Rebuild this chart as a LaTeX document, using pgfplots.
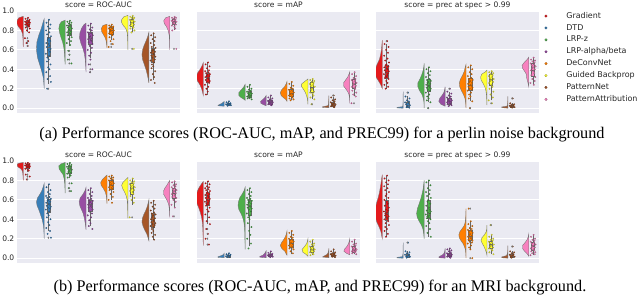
\documentclass[border=0pt]{standalone}
\usepackage{fontspec}
\setmainfont{DejaVu Sans}
\newfontfamily\capfont{Liberation Serif}
\usepackage{pgfplots}
\pgfplotsset{compat=1.18}
\definecolor{bg}{HTML}{EAEAF2}
\definecolor{c0}{HTML}{E41A1C}
\definecolor{c1}{HTML}{377EB8}
\definecolor{c2}{HTML}{4DAF4A}
\definecolor{c3}{HTML}{984EA3}
\definecolor{c4}{HTML}{FF7F00}
\definecolor{c5}{HTML}{FFFF33}
\definecolor{c6}{HTML}{A65628}
\definecolor{c7}{HTML}{F781BF}
\pgfplotsset{rc/.style={
  scale only axis, width=163bp, height=102bp,
  xmin=-0.5, xmax=7.2875, ymin=-0.05, ymax=1.0,
  axis background/.style={fill=bg},
  axis line style={draw=none},
  ymajorgrids, grid style={white, line width=0.8pt},
  xtick=\empty, ytick={0,0.2,0.4,0.6,0.8,1.0},
  major tick length=0pt,
  /pgf/number format/assume math mode=true,
  tick label style={font=\fontsize{7.6}{9}\selectfont, text=black!85},
  yticklabel style={/pgf/number format/fixed, /pgf/number format/fixed zerofill, /pgf/number format/precision=1, inner sep=1bp, xshift=-1.5bp},
  every axis title shift=0pt,
  title style={font=\fontsize{7.6}{9}\selectfont, text=black!85, anchor=base, at={(0.5,1)}, yshift=3bp, inner sep=0pt},
}}
% group: position, colour, violin (v w), strip points (d v), lower whisker, q1, median, q3, upper whisker
\newcommand\grp[9]{%
  \addplot[forget plot, fill=#2, draw=black!55, line width=0.35pt] table[row sep=\\, x expr={#1-0.2-\thisrow{w}}, y=v] {v w\\ #3} -- cycle;
  \addplot[forget plot, only marks, mark=*, mark size=0.8pt, draw=#2!55!black, fill=#2, line width=0.15pt] table[row sep=\\, x expr={#1+\thisrow{d}}, y=v] {d v\\ #4};
  \addplot[forget plot, draw=black!60, line width=0.4pt] table[row sep=\\, x expr={#1}, y=v] {v\\ #5\\ #6\\};
  \addplot[forget plot, draw=black!60, line width=0.4pt] table[row sep=\\, x expr={#1}, y=v] {v\\ #8\\ #9\\};
  \addplot[forget plot, draw=black!60, fill=#2, line width=0.4pt] table[row sep=\\, x expr={#1+\thisrow{d}}, y=v] {d v\\ -0.075 #6\\ 0.075 #6\\ 0.075 #8\\ -0.075 #8\\} -- cycle;
  \addplot[forget plot, draw=black!60, line width=0.5pt] table[row sep=\\, x expr={#1+\thisrow{d}}, y=v] {d v\\ -0.075 #7\\ 0.075 #7\\};
}
\newcommand\fl[2]{\addplot[forget plot, only marks, mark=diamond*, mark size=0.9pt, draw=black!60, fill=black!45, line width=0.15pt] table[row sep=\\, header=false, x expr={#1}, y index=0] {#2};}
\begin{document}
\begin{tikzpicture}
\useasboundingbox (0,0) rectangle (640bp,296bp);
%% ---------------- top row ----------------
\begin{axis}[rc, at={(17bp,183bp)}, anchor=south west, title={score = ROC-AUC}]
\grp{0}{c0}{0.945 0\\0.93 0.22\\0.90 0.30\\0.87 0.30\\0.84 0.24\\0.81 0.12\\0.77 0.04\\0.72 0.015\\0.66 0.01\\0.63 0\\}
{0.03 0.93\\-0.09 0.92\\0.10 0.91\\-0.02 0.90\\0.07 0.90\\-0.11 0.89\\0.05 0.89\\-0.06 0.88\\0.12 0.88\\0.00 0.87\\-0.04 0.87\\0.09 0.86\\-0.10 0.86\\0.02 0.85\\0.06 0.84\\-0.08 0.83\\0.11 0.82\\-0.03 0.80\\0.08 0.78\\-0.12 0.72\\0.04 0.69\\-0.05 0.67\\0.01 0.64\\}
{0.78}{0.84}{0.87}{0.90}{0.93}
\fl{0}{0.72\\0.69\\0.67\\0.64\\}
\grp{1}{c1}{0.92 0\\0.88 0.06\\0.82 0.14\\0.75 0.26\\0.68 0.35\\0.60 0.37\\0.52 0.32\\0.45 0.22\\0.38 0.12\\0.32 0.05\\0.26 0.02\\0.20 0\\}
{0.03 0.91\\-0.09 0.88\\0.10 0.86\\-0.02 0.84\\0.07 0.82\\-0.11 0.80\\0.05 0.78\\-0.06 0.76\\0.12 0.74\\0.00 0.72\\-0.04 0.70\\0.09 0.69\\-0.10 0.67\\0.02 0.66\\0.06 0.64\\-0.08 0.63\\0.11 0.61\\-0.03 0.60\\0.08 0.58\\-0.12 0.56\\0.04 0.54\\-0.05 0.52\\0.01 0.50\\-0.07 0.48\\0.10 0.45\\-0.01 0.42\\0.05 0.40\\-0.10 0.37\\0.08 0.33\\-0.04 0.30\\0.12 0.27\\-0.06 0.20\\}
{0.25}{0.53}{0.63}{0.73}{0.91}
\fl{1}{0.20\\}
\grp{2}{c2}{0.905 0\\0.89 0.18\\0.86 0.27\\0.82 0.30\\0.78 0.27\\0.73 0.20\\0.68 0.12\\0.62 0.06\\0.56 0.03\\0.50 0.015\\0.45 0\\}
{0.03 0.90\\-0.09 0.89\\0.10 0.88\\-0.02 0.87\\0.07 0.86\\-0.11 0.85\\0.05 0.84\\-0.06 0.83\\0.12 0.82\\0.00 0.81\\-0.04 0.80\\0.09 0.79\\-0.10 0.78\\0.02 0.77\\0.06 0.76\\-0.08 0.75\\0.11 0.73\\-0.03 0.71\\0.08 0.69\\-0.12 0.67\\0.04 0.65\\-0.05 0.59\\0.01 0.55\\-0.07 0.50\\0.10 0.46\\}
{0.64}{0.75}{0.80}{0.85}{0.90}
\fl{2}{0.59\\0.55\\0.50\\0.46\\}
\grp{3}{c3}{0.875 0\\0.86 0.10\\0.82 0.22\\0.77 0.30\\0.72 0.31\\0.67 0.25\\0.62 0.16\\0.56 0.08\\0.50 0.04\\0.44 0.02\\0.37 0\\}
{0.03 0.87\\-0.09 0.85\\0.10 0.83\\-0.02 0.81\\0.07 0.80\\-0.11 0.78\\0.05 0.77\\-0.06 0.76\\0.12 0.75\\0.00 0.74\\-0.04 0.73\\0.09 0.72\\-0.10 0.71\\0.02 0.70\\0.06 0.69\\-0.08 0.68\\0.11 0.66\\-0.03 0.64\\0.08 0.62\\-0.12 0.60\\0.04 0.57\\-0.05 0.54\\0.01 0.50\\-0.07 0.45\\0.10 0.40\\-0.01 0.37\\}
{0.52}{0.66}{0.72}{0.78}{0.87}
\fl{3}{0.45\\0.40\\0.37\\}
\grp{4}{c4}{0.865 0\\0.85 0.20\\0.82 0.27\\0.79 0.26\\0.76 0.18\\0.73 0.10\\0.70 0.05\\0.66 0.02\\0.62 0\\}
{0.03 0.86\\-0.09 0.85\\0.10 0.84\\-0.02 0.84\\0.07 0.83\\-0.11 0.82\\0.05 0.82\\-0.06 0.81\\0.12 0.80\\0.00 0.80\\-0.04 0.79\\0.09 0.78\\-0.10 0.77\\0.02 0.76\\0.06 0.75\\-0.08 0.73\\0.11 0.71\\-0.03 0.69\\0.08 0.66\\-0.12 0.63\\}
{0.70}{0.76}{0.80}{0.83}{0.86}
\fl{4}{0.66\\0.63\\}
\grp{5}{c5}{0.955 0\\0.94 0.20\\0.91 0.30\\0.88 0.30\\0.85 0.22\\0.82 0.10\\0.78 0.04\\0.72 0.015\\0.66 0.01\\0.60 0\\}
{0.03 0.95\\-0.09 0.94\\0.10 0.93\\-0.02 0.93\\0.07 0.92\\-0.11 0.91\\0.05 0.90\\-0.06 0.90\\0.12 0.89\\0.00 0.88\\-0.04 0.87\\0.09 0.86\\-0.10 0.85\\0.02 0.84\\0.06 0.83\\-0.08 0.82\\0.11 0.80\\-0.03 0.78\\0.08 0.61\\}
{0.78}{0.84}{0.88}{0.92}{0.95}
\fl{5}{0.61\\}
\grp{6}{c6}{0.78 0\\0.74 0.05\\0.70 0.12\\0.65 0.22\\0.60 0.30\\0.55 0.33\\0.50 0.30\\0.45 0.22\\0.40 0.14\\0.35 0.08\\0.30 0.03\\0.26 0\\}
{0.03 0.77\\-0.09 0.75\\0.10 0.73\\-0.02 0.71\\0.07 0.69\\-0.11 0.67\\0.05 0.65\\-0.06 0.63\\0.12 0.62\\0.00 0.60\\-0.04 0.59\\0.09 0.58\\-0.10 0.57\\0.02 0.56\\0.06 0.55\\-0.08 0.54\\0.11 0.53\\-0.03 0.52\\0.08 0.50\\-0.12 0.49\\0.04 0.47\\-0.05 0.45\\0.01 0.43\\-0.07 0.41\\0.10 0.38\\-0.01 0.35\\0.05 0.32\\-0.10 0.29\\0.08 0.26\\}
{0.29}{0.47}{0.55}{0.62}{0.77}
\grp{7}{c7}{0.945 0\\0.93 0.20\\0.90 0.29\\0.87 0.26\\0.84 0.16\\0.80 0.08\\0.75 0.03\\0.70 0.015\\0.64 0.01\\0.60 0\\}
{0.03 0.94\\-0.09 0.93\\0.10 0.93\\-0.02 0.92\\0.07 0.91\\-0.11 0.90\\0.05 0.90\\-0.06 0.89\\0.12 0.89\\0.00 0.88\\-0.04 0.87\\0.09 0.86\\-0.10 0.85\\0.02 0.84\\0.06 0.82\\-0.08 0.80\\0.11 0.61\\}
{0.80}{0.86}{0.89}{0.92}{0.94}
\fl{7}{0.61\\}
\end{axis}
\begin{axis}[rc, at={(197bp,183bp)}, anchor=south west, yticklabels={}, title={score = mAP}]
\grp{0}{c0}{0.47 0\\0.44 0.05\\0.40 0.15\\0.36 0.28\\0.32 0.33\\0.28 0.28\\0.24 0.16\\0.20 0.08\\0.16 0.03\\0.13 0\\}
{0.03 0.47\\-0.09 0.45\\0.10 0.43\\-0.02 0.41\\0.07 0.39\\-0.11 0.38\\0.05 0.37\\-0.06 0.36\\0.12 0.35\\0.00 0.34\\-0.04 0.33\\0.09 0.33\\-0.10 0.32\\0.02 0.31\\0.06 0.30\\-0.08 0.29\\0.11 0.28\\-0.03 0.27\\0.08 0.26\\-0.12 0.24\\0.04 0.22\\-0.05 0.20\\0.01 0.17\\-0.07 0.14\\}
{0.14}{0.27}{0.32}{0.36}{0.47}
\grp{1}{c1}{0.07 0\\0.05 0.10\\0.035 0.25\\0.025 0.30\\0.02 0\\}
{0.03 0.07\\-0.09 0.06\\0.10 0.05\\-0.02 0.05\\0.07 0.045\\-0.11 0.04\\0.05 0.04\\-0.06 0.035\\0.12 0.03\\0.00 0.03\\-0.04 0.025\\}
{0.025}{0.03}{0.04}{0.05}{0.07}
\grp{2}{c2}{0.245 0\\0.22 0.06\\0.19 0.18\\0.16 0.30\\0.13 0.30\\0.11 0.20\\0.09 0.05\\0.08 0\\}
{0.03 0.24\\-0.09 0.22\\0.10 0.20\\-0.02 0.19\\0.07 0.18\\-0.11 0.17\\0.05 0.16\\-0.06 0.155\\0.12 0.15\\0.00 0.14\\-0.04 0.135\\0.09 0.13\\-0.10 0.12\\0.02 0.115\\0.06 0.11\\-0.08 0.10\\0.11 0.09\\}
{0.09}{0.115}{0.135}{0.17}{0.24}
\grp{3}{c3}{0.13 0\\0.11 0.05\\0.09 0.15\\0.07 0.26\\0.05 0.25\\0.035 0.12\\0.025 0\\}
{0.03 0.13\\-0.09 0.11\\0.10 0.10\\-0.02 0.09\\0.07 0.08\\-0.11 0.075\\0.05 0.07\\-0.06 0.065\\0.12 0.06\\0.00 0.055\\-0.04 0.05\\0.09 0.045\\-0.10 0.04\\0.02 0.035\\0.06 0.03\\}
{0.03}{0.045}{0.06}{0.08}{0.13}
\grp{4}{c4}{0.275 0\\0.25 0.04\\0.22 0.12\\0.19 0.25\\0.16 0.32\\0.13 0.28\\0.11 0.18\\0.09 0.06\\0.07 0\\}
{0.03 0.27\\-0.09 0.25\\0.10 0.23\\-0.02 0.21\\0.07 0.20\\-0.11 0.19\\0.05 0.18\\-0.06 0.17\\0.12 0.16\\0.00 0.15\\-0.04 0.145\\0.09 0.14\\-0.10 0.13\\0.02 0.12\\0.06 0.11\\-0.08 0.10\\0.11 0.09\\-0.03 0.08\\}
{0.08}{0.12}{0.15}{0.19}{0.27}
\grp{5}{c5}{0.30 0\\0.28 0.12\\0.25 0.30\\0.22 0.30\\0.19 0.20\\0.16 0.12\\0.13 0.07\\0.10 0.03\\0.07 0.01\\0.04 0\\}
{0.03 0.30\\-0.09 0.29\\0.10 0.28\\-0.02 0.27\\0.07 0.26\\-0.11 0.25\\0.05 0.24\\-0.06 0.23\\0.12 0.22\\0.00 0.20\\-0.04 0.19\\0.09 0.17\\-0.10 0.16\\0.02 0.15\\0.06 0.13\\-0.08 0.11\\0.11 0.09\\-0.03 0.04\\}
{0.09}{0.16}{0.22}{0.27}{0.30}
\fl{5}{0.04\\}
\grp{6}{c6}{0.13 0\\0.10 0.005\\0.07 0.01\\0.04 0.02\\0.025 0.05\\0.015 0.30\\0.008 0.30\\0.005 0\\}
{0.03 0.13\\-0.09 0.11\\0.10 0.09\\-0.02 0.08\\0.07 0.07\\-0.11 0.06\\0.05 0.05\\-0.06 0.045\\0.12 0.04\\0.00 0.035\\-0.04 0.03\\0.09 0.025\\-0.10 0.02\\0.02 0.015\\0.06 0.01\\}
{0.01}{0.02}{0.035}{0.06}{0.11}
\fl{6}{0.13\\}
\grp{7}{c7}{0.375 0\\0.35 0.04\\0.32 0.10\\0.29 0.20\\0.26 0.30\\0.23 0.30\\0.20 0.20\\0.17 0.10\\0.14 0.04\\0.10 0.01\\0.05 0\\}
{0.03 0.37\\-0.09 0.35\\0.10 0.33\\-0.02 0.31\\0.07 0.30\\-0.11 0.29\\0.05 0.28\\-0.06 0.27\\0.12 0.26\\0.00 0.25\\-0.04 0.24\\0.09 0.23\\-0.10 0.22\\0.02 0.21\\0.06 0.20\\-0.08 0.18\\0.11 0.16\\-0.03 0.14\\0.08 0.12\\-0.12 0.05\\}
{0.12}{0.21}{0.25}{0.30}{0.37}
\fl{7}{0.05\\}
\end{axis}
\begin{axis}[rc, at={(376bp,183bp)}, anchor=south west, yticklabels={}, title={score = prec at spec > 0.99},
  legend style={at={(1,1)}, anchor=north west, xshift=1bp, draw=none, fill=none, inner sep=0pt, row sep=2.2bp, font=\fontsize{8}{9}\selectfont, text=black!85, nodes={inner sep=1bp, text height=6bp, text depth=1.7bp}},
  legend cell align=left,
  legend image code/.code={\path (0cm,0cm) (0.88cm,0cm); \draw[mark repeat=2, mark phase=2, #1] plot coordinates {(0cm,0cm) (0.2cm,0cm) (0.88cm,0cm)};}]
\addlegendimage{only marks, mark=*, mark size=1.3pt, draw=c0!55!black, fill=c0, line width=0.2pt}
\addlegendimage{only marks, mark=*, mark size=1.3pt, draw=c1!55!black, fill=c1, line width=0.2pt}
\addlegendimage{only marks, mark=*, mark size=1.3pt, draw=c2!55!black, fill=c2, line width=0.2pt}
\addlegendimage{only marks, mark=*, mark size=1.3pt, draw=c3!55!black, fill=c3, line width=0.2pt}
\addlegendimage{only marks, mark=*, mark size=1.3pt, draw=c4!55!black, fill=c4, line width=0.2pt}
\addlegendimage{only marks, mark=*, mark size=1.3pt, draw=c5!55!black, fill=c5, line width=0.2pt}
\addlegendimage{only marks, mark=*, mark size=1.3pt, draw=c6!55!black, fill=c6, line width=0.2pt}
\addlegendimage{only marks, mark=*, mark size=1.3pt, draw=c7!55!black, fill=c7, line width=0.2pt}
\addlegendentry{Gradient}
\addlegendentry{DTD}
\addlegendentry{LRP-z}
\addlegendentry{LRP-alpha/beta}
\addlegendentry{DeConvNet}
\addlegendentry{Guided Backprop}
\addlegendentry{PatternNet}
\addlegendentry{PatternAttribution}
\grp{0}{c0}{0.70 0\\0.65 0.02\\0.60 0.04\\0.55 0.08\\0.50 0.14\\0.45 0.25\\0.40 0.34\\0.36 0.36\\0.32 0.30\\0.28 0.18\\0.24 0.07\\0.20 0\\}
{0.03 0.69\\-0.09 0.66\\0.10 0.63\\-0.02 0.60\\0.07 0.57\\-0.11 0.54\\0.05 0.51\\-0.06 0.49\\0.12 0.47\\0.00 0.45\\-0.04 0.44\\0.09 0.43\\-0.10 0.42\\0.02 0.41\\0.06 0.40\\-0.08 0.39\\0.11 0.38\\-0.03 0.37\\0.08 0.36\\-0.12 0.35\\0.04 0.34\\-0.05 0.33\\0.01 0.32\\-0.07 0.31\\0.10 0.30\\-0.01 0.28\\0.05 0.26\\-0.10 0.24\\0.08 0.22\\-0.04 0.20\\}
{0.20}{0.31}{0.37}{0.44}{0.66}
\fl{0}{0.69\\}
\grp{1}{c1}{0.17 0\\0.12 0.005\\0.06 0.01\\0.03 0.015\\0.015 0.03\\0.008 0.30\\0.002 0.30\\0 0\\}
{0.03 0.16\\-0.09 0.12\\0.10 0.10\\-0.02 0.08\\0.07 0.07\\-0.11 0.06\\0.05 0.05\\-0.06 0.04\\0.12 0.03\\0.00 0.02\\-0.04 0.01\\0.09 0.005\\}
{0.0}{0.01}{0.03}{0.06}{0.12}
\fl{1}{0.16\\}
\grp{2}{c2}{0.46 0\\0.42 0.02\\0.38 0.06\\0.34 0.12\\0.30 0.20\\0.26 0.30\\0.22 0.30\\0.18 0.22\\0.14 0.10\\0.10 0.04\\0.06 0.01\\0.00 0\\}
{0.03 0.42\\-0.09 0.40\\0.10 0.38\\-0.02 0.36\\0.07 0.34\\-0.11 0.32\\0.05 0.30\\-0.06 0.29\\0.12 0.28\\0.00 0.27\\-0.04 0.26\\0.09 0.25\\-0.10 0.24\\0.02 0.23\\0.06 0.22\\-0.08 0.21\\0.11 0.20\\-0.03 0.19\\0.08 0.18\\-0.12 0.16\\0.04 0.14\\-0.05 0.12\\0.01 0.10\\-0.07 0.08\\0.10 0.06\\-0.01 0.00\\}
{0.06}{0.17}{0.24}{0.30}{0.42}
\fl{2}{0.00\\}
\grp{3}{c3}{0.22 0\\0.19 0.02\\0.16 0.06\\0.13 0.15\\0.10 0.26\\0.07 0.30\\0.04 0.20\\0.02 0\\}
{0.03 0.20\\-0.09 0.17\\0.10 0.15\\-0.02 0.13\\0.07 0.12\\-0.11 0.11\\0.05 0.10\\-0.06 0.09\\0.12 0.08\\0.00 0.075\\-0.04 0.07\\0.09 0.065\\-0.10 0.06\\0.02 0.05\\0.06 0.045\\-0.08 0.04\\0.11 0.03\\-0.03 0.02\\}
{0.02}{0.045}{0.07}{0.10}{0.17}
\fl{3}{0.20\\}
\grp{4}{c4}{0.45 0\\0.42 0.04\\0.38 0.08\\0.34 0.16\\0.30 0.26\\0.26 0.32\\0.22 0.30\\0.18 0.22\\0.14 0.12\\0.10 0.05\\0.06 0.02\\0.00 0\\}
{0.03 0.44\\-0.09 0.42\\0.10 0.40\\-0.02 0.37\\0.07 0.35\\-0.11 0.33\\0.05 0.31\\-0.06 0.30\\0.12 0.29\\0.00 0.28\\-0.04 0.27\\0.09 0.26\\-0.10 0.25\\0.02 0.24\\0.06 0.23\\-0.08 0.22\\0.11 0.21\\-0.03 0.20\\0.08 0.19\\-0.12 0.18\\0.04 0.16\\-0.05 0.14\\0.01 0.12\\-0.07 0.10\\0.10 0.07\\-0.01 0.00\\}
{0.07}{0.18}{0.24}{0.31}{0.44}
\fl{4}{0.00\\}
\grp{5}{c5}{0.39 0\\0.37 0.10\\0.35 0.25\\0.32 0.30\\0.29 0.28\\0.26 0.20\\0.22 0.10\\0.18 0.05\\0.13 0.02\\0.08 0.01\\0.03 0\\}
{0.03 0.38\\-0.09 0.37\\0.10 0.36\\-0.02 0.35\\0.07 0.34\\-0.11 0.33\\0.05 0.32\\-0.06 0.31\\0.12 0.30\\0.00 0.29\\-0.04 0.28\\0.09 0.27\\-0.10 0.26\\0.02 0.24\\0.06 0.22\\-0.08 0.20\\0.11 0.17\\-0.03 0.14\\0.08 0.11\\-0.12 0.08\\0.04 0.05\\}
{0.08}{0.24}{0.30}{0.35}{0.38}
\fl{5}{0.05\\}
\grp{6}{c6}{0.12 0\\0.08 0.005\\0.05 0.01\\0.03 0.02\\0.02 0.06\\0.012 0.30\\0.005 0.28\\0 0\\}
{0.03 0.10\\-0.09 0.05\\0.10 0.04\\-0.02 0.035\\0.07 0.03\\-0.11 0.025\\0.05 0.02\\-0.06 0.015\\0.12 0.01\\0.00 0.005\\}
{0.0}{0.01}{0.02}{0.03}{0.05}
\fl{6}{0.10\\}
\grp{7}{c7}{0.525 0\\0.50 0.08\\0.47 0.22\\0.44 0.32\\0.41 0.30\\0.38 0.20\\0.35 0.12\\0.31 0.10\\0.27 0.05\\0.22 0\\}
{0.03 0.52\\-0.09 0.50\\0.10 0.49\\-0.02 0.48\\0.07 0.47\\-0.11 0.46\\0.05 0.45\\-0.06 0.44\\0.12 0.43\\0.00 0.42\\-0.04 0.41\\0.09 0.40\\-0.10 0.39\\0.02 0.38\\0.06 0.36\\-0.08 0.34\\0.11 0.32\\-0.03 0.30\\0.08 0.28\\-0.12 0.26\\0.04 0.24\\}
{0.24}{0.33}{0.39}{0.46}{0.52}
\end{axis}
%% ---------------- bottom row ----------------
\begin{axis}[rc, at={(17bp,33bp)}, anchor=south west, title={score = ROC-AUC}]
\grp{0}{c0}{0.985 0\\0.975 0.25\\0.96 0.30\\0.94 0.26\\0.92 0.12\\0.90 0.05\\0.87 0.02\\0.83 0.01\\0.80 0\\}
{0.03 0.98\\-0.09 0.975\\0.10 0.97\\-0.02 0.965\\0.07 0.96\\-0.11 0.955\\0.05 0.95\\-0.06 0.95\\0.12 0.945\\0.00 0.94\\-0.04 0.935\\0.09 0.93\\-0.10 0.92\\0.02 0.91\\0.06 0.90\\-0.08 0.86\\0.11 0.84\\-0.03 0.81\\}
{0.89}{0.93}{0.95}{0.97}{0.985}
\fl{0}{0.86\\0.84\\0.81\\}
\grp{1}{c1}{0.77 0\\0.74 0.04\\0.70 0.10\\0.66 0.20\\0.62 0.32\\0.58 0.37\\0.54 0.34\\0.50 0.26\\0.45 0.18\\0.40 0.10\\0.35 0.05\\0.30 0.02\\0.20 0\\}
{0.03 0.76\\-0.09 0.73\\0.10 0.70\\-0.02 0.68\\0.07 0.66\\-0.11 0.64\\0.05 0.63\\-0.06 0.62\\0.12 0.61\\0.00 0.60\\-0.04 0.59\\0.09 0.58\\-0.10 0.57\\0.02 0.56\\0.06 0.55\\-0.08 0.54\\0.11 0.53\\-0.03 0.52\\0.08 0.51\\-0.12 0.50\\0.04 0.48\\-0.05 0.46\\0.01 0.44\\-0.07 0.42\\0.10 0.40\\-0.01 0.37\\0.05 0.34\\-0.10 0.31\\0.08 0.28\\-0.04 0.25\\0.12 0.21\\}
{0.28}{0.47}{0.55}{0.61}{0.76}
\fl{1}{0.21\\}
\grp{2}{c2}{0.985 0\\0.97 0.20\\0.95 0.30\\0.92 0.29\\0.89 0.20\\0.86 0.10\\0.82 0.05\\0.77 0.02\\0.72 0.01\\0.67 0\\}
{0.03 0.98\\-0.09 0.97\\0.10 0.96\\-0.02 0.95\\0.07 0.945\\-0.11 0.94\\0.05 0.93\\-0.06 0.92\\0.12 0.91\\0.00 0.90\\-0.04 0.89\\0.09 0.88\\-0.10 0.87\\0.02 0.86\\0.06 0.85\\-0.08 0.83\\0.11 0.77\\-0.03 0.72\\0.08 0.69\\}
{0.82}{0.87}{0.91}{0.95}{0.98}
\fl{2}{0.77\\0.72\\0.69\\}
\grp{3}{c3}{0.73 0\\0.70 0.04\\0.66 0.14\\0.62 0.28\\0.58 0.33\\0.54 0.30\\0.50 0.22\\0.46 0.14\\0.41 0.08\\0.36 0.04\\0.29 0\\}
{0.03 0.72\\-0.09 0.70\\0.10 0.68\\-0.02 0.66\\0.07 0.64\\-0.11 0.62\\0.05 0.61\\-0.06 0.60\\0.12 0.59\\0.00 0.58\\-0.04 0.57\\0.09 0.56\\-0.10 0.55\\0.02 0.54\\0.06 0.53\\-0.08 0.52\\0.11 0.50\\-0.03 0.48\\0.08 0.46\\-0.12 0.44\\0.04 0.42\\-0.05 0.39\\0.01 0.36\\-0.07 0.33\\0.10 0.30\\}
{0.33}{0.48}{0.55}{0.60}{0.72}
\grp{4}{c4}{0.855 0\\0.84 0.08\\0.81 0.22\\0.78 0.30\\0.75 0.28\\0.72 0.18\\0.68 0.08\\0.64 0.03\\0.60 0.015\\0.56 0\\}
{0.03 0.85\\-0.09 0.84\\0.10 0.83\\-0.02 0.82\\0.07 0.81\\-0.11 0.80\\0.05 0.79\\-0.06 0.78\\0.12 0.77\\0.00 0.76\\-0.04 0.75\\0.09 0.74\\-0.10 0.73\\0.02 0.72\\0.06 0.71\\-0.08 0.70\\0.11 0.68\\-0.03 0.66\\0.08 0.63\\-0.12 0.60\\0.04 0.57\\}
{0.60}{0.71}{0.75}{0.80}{0.85}
\grp{5}{c5}{0.83 0\\0.81 0.10\\0.78 0.24\\0.75 0.30\\0.72 0.26\\0.68 0.16\\0.64 0.08\\0.59 0.03\\0.52 0.015\\0.46 0.01\\0.41 0\\}
{0.03 0.82\\-0.09 0.80\\0.10 0.79\\-0.02 0.78\\0.07 0.77\\-0.11 0.76\\0.05 0.75\\-0.06 0.74\\0.12 0.73\\0.00 0.72\\-0.04 0.71\\0.09 0.70\\-0.10 0.69\\0.02 0.68\\0.06 0.66\\-0.08 0.64\\0.11 0.62\\-0.03 0.60\\0.08 0.57\\-0.12 0.42\\}
{0.55}{0.66}{0.72}{0.77}{0.82}
\fl{5}{0.42\\}
\grp{6}{c6}{0.60 0\\0.57 0.03\\0.53 0.08\\0.49 0.15\\0.45 0.24\\0.41 0.31\\0.37 0.33\\0.33 0.28\\0.29 0.20\\0.25 0.10\\0.21 0.04\\0.18 0\\}
{0.03 0.59\\-0.09 0.57\\0.10 0.55\\-0.02 0.53\\0.07 0.51\\-0.11 0.49\\0.05 0.47\\-0.06 0.46\\0.12 0.45\\0.00 0.44\\-0.04 0.42\\0.09 0.41\\-0.10 0.40\\0.02 0.39\\0.06 0.38\\-0.08 0.37\\0.11 0.36\\-0.03 0.35\\0.08 0.34\\-0.12 0.33\\0.04 0.32\\-0.05 0.30\\0.01 0.28\\-0.07 0.26\\0.10 0.24\\-0.01 0.22\\0.05 0.19\\}
{0.19}{0.32}{0.39}{0.46}{0.59}
\grp{7}{c7}{0.80 0\\0.78 0.06\\0.75 0.14\\0.72 0.24\\0.69 0.30\\0.66 0.30\\0.63 0.22\\0.59 0.12\\0.55 0.05\\0.50 0.02\\0.45 0.01\\0.42 0\\}
{0.03 0.79\\-0.09 0.78\\0.10 0.76\\-0.02 0.75\\0.07 0.74\\-0.11 0.73\\0.05 0.72\\-0.06 0.71\\0.12 0.70\\0.00 0.69\\-0.04 0.68\\0.09 0.67\\-0.10 0.66\\0.02 0.65\\0.06 0.64\\-0.08 0.63\\0.11 0.62\\-0.03 0.60\\0.08 0.58\\-0.12 0.55\\0.04 0.52\\-0.05 0.43\\}
{0.52}{0.62}{0.67}{0.72}{0.79}
\fl{7}{0.43\\}
\end{axis}
\begin{axis}[rc, at={(197bp,33bp)}, anchor=south west, yticklabels={}, title={score = mAP}]
\grp{0}{c0}{0.79 0\\0.76 0.10\\0.72 0.22\\0.68 0.30\\0.64 0.34\\0.60 0.35\\0.56 0.30\\0.52 0.22\\0.47 0.14\\0.42 0.08\\0.36 0.04\\0.30 0.02\\0.20 0.01\\0.13 0\\}
{0.03 0.79\\-0.09 0.77\\0.10 0.76\\-0.02 0.74\\0.07 0.73\\-0.11 0.72\\0.05 0.71\\-0.06 0.70\\0.12 0.69\\0.00 0.68\\-0.04 0.67\\0.09 0.66\\-0.10 0.65\\0.02 0.64\\0.06 0.63\\-0.08 0.62\\0.11 0.61\\-0.03 0.60\\0.08 0.59\\-0.12 0.58\\0.04 0.57\\-0.05 0.56\\0.01 0.55\\-0.07 0.54\\0.10 0.52\\-0.01 0.50\\0.05 0.48\\-0.10 0.45\\0.08 0.42\\-0.04 0.38\\0.12 0.35\\-0.06 0.30\\0.02 0.25\\-0.09 0.20\\0.07 0.14\\}
{0.35}{0.54}{0.61}{0.68}{0.79}
\fl{0}{0.30\\0.25\\0.20\\0.14\\}
\grp{1}{c1}{0.05 0\\0.035 0.05\\0.025 0.15\\0.015 0.30\\0.008 0.30\\0.005 0\\}
{0.03 0.05\\-0.09 0.04\\0.10 0.035\\-0.02 0.03\\0.07 0.025\\-0.11 0.02\\0.05 0.015\\-0.06 0.01\\}
{0.005}{0.012}{0.02}{0.03}{0.05}
\grp{2}{c2}{0.73 0\\0.70 0.04\\0.66 0.14\\0.62 0.26\\0.58 0.32\\0.54 0.34\\0.50 0.30\\0.46 0.20\\0.42 0.12\\0.37 0.06\\0.32 0.03\\0.25 0.015\\0.18 0.01\\0.09 0\\}
{0.03 0.72\\-0.09 0.70\\0.10 0.68\\-0.02 0.66\\0.07 0.64\\-0.11 0.62\\0.05 0.61\\-0.06 0.60\\0.12 0.59\\0.00 0.58\\-0.04 0.57\\0.09 0.56\\-0.10 0.55\\0.02 0.54\\0.06 0.53\\-0.08 0.52\\0.11 0.51\\-0.03 0.50\\0.08 0.48\\-0.12 0.46\\0.04 0.44\\-0.05 0.42\\0.01 0.40\\-0.07 0.36\\0.10 0.32\\-0.01 0.28\\0.05 0.24\\-0.10 0.20\\0.08 0.15\\-0.04 0.10\\}
{0.12}{0.44}{0.53}{0.60}{0.72}
\grp{3}{c3}{0.075 0\\0.06 0.03\\0.045 0.08\\0.03 0.15\\0.018 0.30\\0.01 0.30\\0.005 0\\}
{0.03 0.07\\-0.09 0.055\\0.10 0.045\\-0.02 0.04\\0.07 0.035\\-0.11 0.03\\0.05 0.025\\-0.06 0.02\\0.12 0.015\\0.00 0.01\\}
{0.005}{0.015}{0.025}{0.04}{0.07}
\grp{4}{c4}{0.28 0\\0.25 0.03\\0.22 0.08\\0.19 0.16\\0.16 0.26\\0.13 0.32\\0.10 0.25\\0.07 0.10\\0.04 0.03\\0.03 0\\}
{0.03 0.28\\-0.09 0.26\\0.10 0.24\\-0.02 0.22\\0.07 0.21\\-0.11 0.20\\0.05 0.19\\-0.06 0.18\\0.12 0.17\\0.00 0.16\\-0.04 0.15\\0.09 0.14\\-0.10 0.13\\0.02 0.12\\0.06 0.11\\-0.08 0.10\\0.11 0.09\\-0.03 0.07\\0.08 0.05\\}
{0.04}{0.11}{0.155}{0.20}{0.28}
\grp{5}{c5}{0.20 0\\0.18 0.02\\0.15 0.06\\0.12 0.16\\0.09 0.28\\0.06 0.24\\0.04 0.10\\0.02 0\\}
{0.03 0.19\\-0.09 0.17\\0.10 0.15\\-0.02 0.14\\0.07 0.13\\-0.11 0.12\\0.05 0.11\\-0.06 0.10\\0.12 0.09\\0.00 0.085\\-0.04 0.08\\0.09 0.07\\-0.10 0.06\\0.02 0.05\\0.06 0.04\\-0.08 0.03\\}
{0.03}{0.06}{0.09}{0.12}{0.19}
\grp{6}{c6}{0.10 0\\0.08 0.01\\0.06 0.03\\0.04 0.08\\0.025 0.20\\0.012 0.30\\0.005 0\\}
{0.03 0.09\\-0.09 0.07\\0.10 0.06\\-0.02 0.05\\0.07 0.045\\-0.11 0.04\\0.05 0.035\\-0.06 0.03\\0.12 0.025\\0.00 0.02\\-0.04 0.015\\0.09 0.01\\}
{0.01}{0.02}{0.03}{0.05}{0.09}
\grp{7}{c7}{0.20 0\\0.18 0.02\\0.15 0.06\\0.12 0.14\\0.09 0.26\\0.07 0.28\\0.05 0.16\\0.035 0\\}
{0.03 0.19\\-0.09 0.17\\0.10 0.15\\-0.02 0.14\\0.07 0.13\\-0.11 0.12\\0.05 0.11\\-0.06 0.10\\0.12 0.09\\0.00 0.085\\-0.04 0.08\\0.09 0.075\\-0.10 0.07\\0.02 0.065\\0.06 0.06\\-0.08 0.05\\0.11 0.04\\}
{0.04}{0.065}{0.085}{0.12}{0.19}
\end{axis}
\begin{axis}[rc, at={(376bp,33bp)}, anchor=south west, yticklabels={}, title={score = prec at spec > 0.99}]
\grp{0}{c0}{0.86 0\\0.82 0.03\\0.77 0.06\\0.72 0.10\\0.67 0.14\\0.62 0.20\\0.57 0.27\\0.52 0.33\\0.47 0.36\\0.42 0.34\\0.37 0.26\\0.32 0.15\\0.27 0.06\\0.22 0.02\\0.20 0\\}
{0.03 0.85\\-0.09 0.82\\0.10 0.80\\-0.02 0.78\\0.07 0.76\\-0.11 0.74\\0.05 0.72\\-0.06 0.70\\0.12 0.68\\0.00 0.66\\-0.04 0.64\\0.09 0.62\\-0.10 0.60\\0.02 0.58\\0.06 0.56\\-0.08 0.54\\0.11 0.52\\-0.03 0.50\\0.08 0.49\\-0.12 0.48\\0.04 0.47\\-0.05 0.46\\0.01 0.45\\-0.07 0.44\\0.10 0.43\\-0.01 0.42\\0.05 0.41\\-0.10 0.40\\0.08 0.38\\-0.04 0.36\\0.12 0.34\\-0.06 0.32\\0.02 0.30\\-0.09 0.28\\0.07 0.25\\-0.02 0.22\\}
{0.22}{0.39}{0.46}{0.60}{0.85}
\grp{1}{c1}{0.16 0\\0.10 0.005\\0.05 0.01\\0.03 0.02\\0.015 0.05\\0.008 0.30\\0.002 0.30\\0 0\\}
{0.03 0.16\\-0.09 0.07\\0.10 0.06\\-0.02 0.05\\0.07 0.04\\-0.11 0.035\\0.05 0.03\\-0.06 0.02\\0.12 0.015\\0.00 0.01\\-0.04 0.005\\}
{0.0}{0.01}{0.025}{0.045}{0.07}
\fl{1}{0.16\\}
\grp{2}{c2}{0.80 0\\0.76 0.02\\0.71 0.05\\0.66 0.10\\0.61 0.16\\0.56 0.24\\0.51 0.32\\0.46 0.36\\0.42 0.33\\0.38 0.24\\0.34 0.13\\0.30 0.06\\0.25 0.02\\0.20 0\\}
{0.03 0.80\\-0.09 0.78\\0.10 0.75\\-0.02 0.72\\0.07 0.70\\-0.11 0.68\\0.05 0.66\\-0.06 0.64\\0.12 0.62\\0.00 0.60\\-0.04 0.58\\0.09 0.56\\-0.10 0.54\\0.02 0.52\\0.06 0.50\\-0.08 0.49\\0.11 0.48\\-0.03 0.47\\0.08 0.46\\-0.12 0.45\\0.04 0.44\\-0.05 0.43\\0.01 0.42\\-0.07 0.41\\0.10 0.40\\-0.01 0.38\\0.05 0.36\\-0.10 0.33\\0.08 0.30\\-0.04 0.26\\0.12 0.22\\}
{0.22}{0.41}{0.46}{0.60}{0.80}
\grp{3}{c3}{0.10 0\\0.08 0.01\\0.06 0.03\\0.04 0.08\\0.025 0.20\\0.012 0.30\\0.004 0.28\\0 0\\}
{0.03 0.10\\-0.09 0.09\\0.10 0.08\\-0.02 0.07\\0.07 0.06\\-0.11 0.05\\0.05 0.045\\-0.06 0.04\\0.12 0.035\\0.00 0.03\\-0.04 0.025\\0.09 0.02\\-0.10 0.015\\0.02 0.01\\0.06 0.005\\}
{0.0}{0.015}{0.03}{0.05}{0.10}
\grp{4}{c4}{0.51 0\\0.45 0.01\\0.40 0.02\\0.36 0.05\\0.33 0.10\\0.30 0.20\\0.27 0.30\\0.24 0.34\\0.21 0.32\\0.18 0.24\\0.15 0.14\\0.12 0.08\\0.09 0.03\\0.05 0.01\\0.00 0\\}
{0.03 0.38\\-0.09 0.35\\0.10 0.33\\-0.02 0.31\\0.07 0.30\\-0.11 0.29\\0.05 0.28\\-0.06 0.27\\0.12 0.26\\0.00 0.25\\-0.04 0.24\\0.09 0.23\\-0.10 0.22\\0.02 0.21\\0.06 0.20\\-0.08 0.19\\0.11 0.18\\-0.03 0.17\\0.08 0.16\\-0.12 0.15\\0.04 0.13\\-0.05 0.11\\0.01 0.09\\-0.07 0.51\\0.10 0.00\\}
{0.09}{0.18}{0.23}{0.29}{0.38}
\fl{4}{0.51\\0.00\\}
\grp{5}{c5}{0.34 0\\0.30 0.01\\0.27 0.04\\0.24 0.12\\0.21 0.24\\0.18 0.28\\0.15 0.22\\0.12 0.14\\0.09 0.08\\0.06 0.03\\0.03 0\\}
{0.03 0.24\\-0.09 0.22\\0.10 0.20\\-0.02 0.19\\0.07 0.18\\-0.11 0.17\\0.05 0.16\\-0.06 0.15\\0.12 0.14\\0.00 0.13\\-0.04 0.12\\0.09 0.11\\-0.10 0.10\\0.02 0.09\\0.06 0.08\\-0.08 0.06\\0.11 0.04\\-0.03 0.34\\}
{0.04}{0.10}{0.14}{0.17}{0.24}
\fl{5}{0.34\\}
\grp{6}{c6}{0.13 0\\0.09 0.005\\0.06 0.01\\0.04 0.03\\0.025 0.08\\0.012 0.30\\0.004 0.28\\0 0\\}
{0.03 0.12\\-0.09 0.07\\0.10 0.06\\-0.02 0.05\\0.07 0.04\\-0.11 0.035\\0.05 0.03\\-0.06 0.02\\0.12 0.015\\0.00 0.01\\-0.04 0.005\\}
{0.0}{0.01}{0.02}{0.04}{0.07}
\fl{6}{0.12\\}
\grp{7}{c7}{0.25 0\\0.22 0.03\\0.19 0.08\\0.16 0.18\\0.13 0.30\\0.10 0.30\\0.07 0.20\\0.05 0.10\\0.03 0.03\\0.02 0\\}
{0.03 0.24\\-0.09 0.22\\0.10 0.20\\-0.02 0.19\\0.07 0.18\\-0.11 0.17\\0.05 0.16\\-0.06 0.15\\0.12 0.14\\0.00 0.13\\-0.04 0.12\\0.09 0.11\\-0.10 0.10\\0.02 0.09\\0.06 0.08\\-0.08 0.07\\0.11 0.06\\-0.03 0.05\\0.08 0.04\\-0.12 0.03\\}
{0.03}{0.08}{0.12}{0.16}{0.24}
\end{axis}
%% captions
\node[anchor=base, inner sep=0pt, font=\capfont\fontsize{16.3}{19}\selectfont] at (322bp,157bp) {(a) Performance scores (ROC-AUC, mAP, and PREC99) for a perlin noise background};
\node[anchor=base, inner sep=0pt, font=\capfont\fontsize{16.3}{19}\selectfont] at (320bp,5bp) {(b) Performance scores (ROC-AUC, mAP, and PREC99) for an MRI background.};
\end{tikzpicture}
\end{document}
